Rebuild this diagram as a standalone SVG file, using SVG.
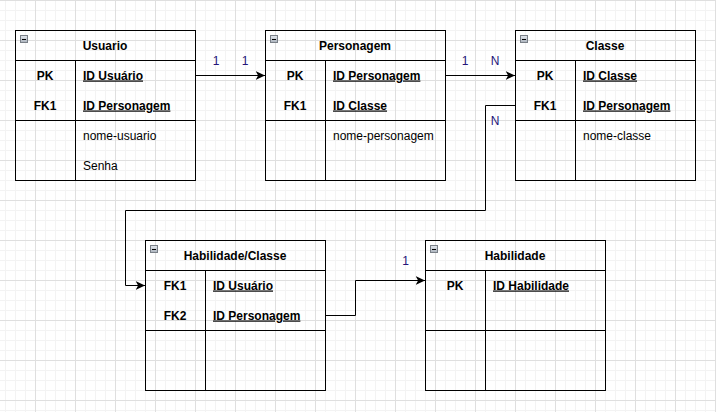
<svg xmlns="http://www.w3.org/2000/svg" width="716" height="412" viewBox="0 0 716 412">
<defs>
<pattern id="minor" patternUnits="userSpaceOnUse" x="5" y="0" width="10" height="10">
<rect x="0" y="0" width="1" height="10" fill="#f3f3f3"/>
<rect x="0" y="0" width="10" height="1" fill="#f3f3f3"/>
</pattern>
<pattern id="major" patternUnits="userSpaceOnUse" x="35" y="0" width="40" height="40">
<rect x="0" y="0" width="1" height="40" fill="#dfdfdf"/>
<rect x="0" y="0" width="40" height="1" fill="#dfdfdf"/>
</pattern>
<linearGradient id="ig" x1="0" y1="0" x2="0" y2="1">
<stop offset="0" stop-color="#e4e8ee"/>
<stop offset="1" stop-color="#aab2bc"/>
</linearGradient>
<marker id="arr" markerUnits="userSpaceOnUse" markerWidth="10" markerHeight="10" viewBox="0 0 8 8" refX="7.5" refY="4" orient="auto">
<path d="M0,0.5 L7.5,4 L0,7.5 L2,4 Z" fill="#000"/>
</marker>
<g id="icon">
<rect x="0.5" y="0.5" width="7" height="7" fill="url(#ig)" stroke="#7a8088"/>
<line x1="2" y1="4.5" x2="6" y2="4.5" stroke="#000" stroke-width="1"/>
</g>
</defs>
<style>
.box{fill:none;stroke:#000;stroke-width:1}
.t{font-family:"Liberation Sans",Arial,sans-serif;font-size:12px;fill:#000}
.h{font-weight:bold;text-anchor:middle}
.k{font-weight:bold;text-anchor:middle}
.u{font-weight:bold;text-decoration:underline}
.lbl{font-family:"Liberation Sans",Arial,sans-serif;font-size:12px;fill:#24147a;text-anchor:middle}
.c{fill:none;stroke:#000;stroke-width:1}
</style>
<rect width="716" height="412" fill="#fff"/>
<rect width="716" height="412" fill="url(#minor)"/>
<rect width="716" height="412" fill="url(#major)"/>

<g id="usuario">
<rect class="box" x="15.5" y="30.5" width="180" height="150"/>
<line class="box" x1="15.5" y1="60.5" x2="195.5" y2="60.5"/>
<line class="box" x1="15.5" y1="120.5" x2="195.5" y2="120.5"/>
<line class="box" x1="75.5" y1="60.5" x2="75.5" y2="180.5"/>
<use href="#icon" x="20" y="35"/>
<text class="t h" x="105" y="49.5">Usuario</text>
<text class="t k" x="45" y="79.5">PK</text>
<text class="t k" x="45" y="109.5">FK1</text>
<text class="t u" x="83" y="79.5">ID Usuário</text>
<text class="t u" x="83" y="109.5">ID Personagem</text>
<text class="t" x="83" y="139.5">nome-usuario</text>
<text class="t" x="83" y="169.5">Senha</text>
</g>

<g id="personagem">
<rect class="box" x="265.5" y="30.5" width="180" height="150"/>
<line class="box" x1="265.5" y1="60.5" x2="445.5" y2="60.5"/>
<line class="box" x1="265.5" y1="120.5" x2="445.5" y2="120.5"/>
<line class="box" x1="325.5" y1="60.5" x2="325.5" y2="180.5"/>
<use href="#icon" x="270" y="35"/>
<text class="t h" x="355" y="49.5">Personagem</text>
<text class="t k" x="295" y="79.5">PK</text>
<text class="t k" x="295" y="109.5">FK1</text>
<text class="t u" x="333" y="79.5">ID Personagem</text>
<text class="t u" x="333" y="109.5">ID Classe</text>
<text class="t" x="333" y="139.5">nome-personagem</text>
</g>

<g id="classe">
<rect class="box" x="515.5" y="30.5" width="180" height="150"/>
<line class="box" x1="515.5" y1="60.5" x2="695.5" y2="60.5"/>
<line class="box" x1="515.5" y1="120.5" x2="695.5" y2="120.5"/>
<line class="box" x1="575.5" y1="60.5" x2="575.5" y2="180.5"/>
<use href="#icon" x="520" y="35"/>
<text class="t h" x="605" y="49.5">Classe</text>
<text class="t k" x="545" y="79.5">PK</text>
<text class="t k" x="545" y="109.5">FK1</text>
<text class="t u" x="583" y="79.5">ID Classe</text>
<text class="t u" x="583" y="109.5">ID Personagem</text>
<text class="t" x="583" y="139.5">nome-classe</text>
</g>

<g id="habilidade-classe">
<rect class="box" x="145.5" y="240.5" width="180" height="150"/>
<line class="box" x1="145.5" y1="270.5" x2="325.5" y2="270.5"/>
<line class="box" x1="145.5" y1="330.5" x2="325.5" y2="330.5"/>
<line class="box" x1="205.5" y1="270.5" x2="205.5" y2="390.5"/>
<use href="#icon" x="150" y="245"/>
<text class="t h" x="235" y="259.5">Habilidade/Classe</text>
<text class="t k" x="175" y="289.5">FK1</text>
<text class="t k" x="175" y="319.5">FK2</text>
<text class="t u" x="213" y="289.5">ID Usuário</text>
<text class="t u" x="213" y="319.5">ID Personagem</text>
</g>

<g id="habilidade">
<rect class="box" x="425.5" y="240.5" width="180" height="150"/>
<line class="box" x1="425.5" y1="270.5" x2="605.5" y2="270.5"/>
<line class="box" x1="425.5" y1="330.5" x2="605.5" y2="330.5"/>
<line class="box" x1="485.5" y1="270.5" x2="485.5" y2="390.5"/>
<use href="#icon" x="430" y="245"/>
<text class="t h" x="515" y="259.5">Habilidade</text>
<text class="t k" x="455" y="289.5">PK</text>
<text class="t u" x="493" y="289.5">ID Habilidade</text>
</g>

<g id="connectors">
<path class="c" d="M195.5,75.5 H265" marker-end="url(#arr)"/>
<path class="c" d="M445.5,75.5 H515" marker-end="url(#arr)"/>
<path class="c" d="M515,105.5 H485.5 V210.5 H125.5 V285.5 H145" marker-end="url(#arr)"/>
<path class="c" d="M325.5,315.5 H355.5 V280.5 H425" marker-end="url(#arr)"/>
<text class="lbl" x="216" y="65">1</text>
<text class="lbl" x="245" y="65">1</text>
<text class="lbl" x="465" y="65">1</text>
<text class="lbl" x="495" y="65">N</text>
<text class="lbl" x="495" y="125">N</text>
<text class="lbl" x="405.5" y="264.5">1</text>
</g>
</svg>
